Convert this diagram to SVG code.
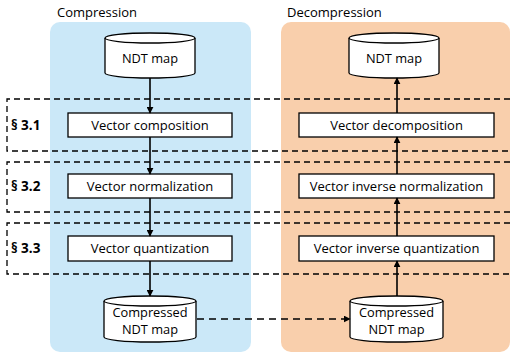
<svg xmlns="http://www.w3.org/2000/svg" width="512" height="355" viewBox="0 0 512 355">
  <style>
    text { font-family: "Open Sans", "Liberation Sans", sans-serif; fill: #000; }
    .title { font-size: 13px; }
    .lbl { font-size: 13px; text-anchor: middle; }
    .cyltxt { font-size: 12.8px; text-anchor: middle; }
    .sec { font-size: 13.5px; font-weight: bold; }
    .box { fill: #fff; stroke: #000; stroke-width: 1.3; }
    .cyl { fill: #fff; stroke: #000; stroke-width: 1.3; }
    .region { fill: none; stroke: #000; stroke-width: 1.3; stroke-dasharray: 6 4; }
    .flow { stroke: #000; stroke-width: 1.6; fill: none; marker-end: url(#head); }
    .dashed { stroke-dasharray: 7 5; }
  </style>
  <defs>
    <marker id="head" viewBox="0 0 10 10" refX="9" refY="5" markerWidth="7" markerHeight="7" markerUnits="userSpaceOnUse" orient="auto">
      <path d="M0,0 L10,5 L0,10 Z" fill="#000"/>
    </marker>
  </defs>

  <!-- panels -->
  <rect x="50" y="22" width="201" height="330" rx="10" fill="#cbe8f8"/>
  <rect x="281" y="22" width="229" height="330" rx="10" fill="#f9cfac"/>
  <text class="title" x="57" y="17">Compression</text>
  <text class="title" x="287" y="17">Decompression</text>

  <!-- section regions -->
  <g id="sections">
    <path class="region" d="M520,99 H7 V151 H520"/>
    <path class="region" d="M520,162 H7 V212 H520"/>
    <path class="region" d="M520,223 H7 V274 H520"/>
    <text class="sec" x="11" y="130">§ 3.1</text>
    <text class="sec" x="11" y="191">§ 3.2</text>
    <text class="sec" x="11" y="253">§ 3.3</text>
  </g>

  <!-- compression side -->
  <g id="ndt-in">
    <path class="cyl" d="M105,38 V73 A45,5 0 0 0 195,73 V38 A45,5 0 0 0 105,38 Z"/>
    <path class="cyl" d="M105,38 A45,5 0 0 0 195,38" fill="none"/>
    <text class="cyltxt" x="150" y="63">NDT map</text>
  </g>
  <g id="composition">
    <rect class="box" x="68" y="113" width="164" height="24"/>
    <text class="lbl" x="150" y="130">Vector composition</text>
  </g>
  <g id="normalization">
    <rect class="box" x="68" y="174" width="164" height="24"/>
    <text class="lbl" x="150" y="191">Vector normalization</text>
  </g>
  <g id="quantization">
    <rect class="box" x="68" y="236" width="164" height="25"/>
    <text class="lbl" x="150" y="253">Vector quantization</text>
  </g>
  <g id="compressed-out">
    <path class="cyl" d="M104,301 V337 A46,5 0 0 0 196,337 V301 A46,5 0 0 0 104,301 Z"/>
    <path class="cyl" d="M104,301 A46,5 0 0 0 196,301" fill="none"/>
    <text class="cyltxt" x="150" y="317">Compressed</text>
    <text class="cyltxt" x="150" y="334">NDT map</text>
  </g>

  <!-- decompression side -->
  <g id="ndt-out">
    <path class="cyl" d="M349,38 V73 A45,5 0 0 0 439,73 V38 A45,5 0 0 0 349,38 Z"/>
    <path class="cyl" d="M349,38 A45,5 0 0 0 439,38" fill="none"/>
    <text class="cyltxt" x="394" y="63">NDT map</text>
  </g>
  <g id="decomposition">
    <rect class="box" x="299" y="113" width="195" height="24"/>
    <text class="lbl" x="396.5" y="130">Vector decomposition</text>
  </g>
  <g id="inv-normalization">
    <rect class="box" x="299" y="174" width="195" height="24"/>
    <text class="lbl" x="396.5" y="191">Vector inverse normalization</text>
  </g>
  <g id="inv-quantization">
    <rect class="box" x="299" y="236" width="195" height="25"/>
    <text class="lbl" x="396.5" y="253">Vector inverse quantization</text>
  </g>
  <g id="compressed-in">
    <path class="cyl" d="M350,301 V337 A46.5,5 0 0 0 443,337 V301 A46.5,5 0 0 0 350,301 Z"/>
    <path class="cyl" d="M350,301 A46.5,5 0 0 0 443,301" fill="none"/>
    <text class="cyltxt" x="396.5" y="317">Compressed</text>
    <text class="cyltxt" x="396.5" y="334">NDT map</text>
  </g>

  <!-- connectors -->
  <g id="connectors">
    <line class="flow" x1="150" y1="78" x2="150" y2="113"/>
    <line class="flow" x1="150" y1="137" x2="150" y2="174"/>
    <line class="flow" x1="150" y1="198" x2="150" y2="236"/>
    <line class="flow" x1="150" y1="261" x2="150" y2="296"/>
    <line class="flow" x1="397" y1="296" x2="397" y2="261"/>
    <line class="flow" x1="397" y1="236" x2="397" y2="198"/>
    <line class="flow" x1="397" y1="174" x2="397" y2="137"/>
    <line class="flow" x1="397" y1="113" x2="397" y2="78"/>
    <line class="flow dashed" x1="197" y1="319" x2="350" y2="319"/>
  </g>
</svg>
